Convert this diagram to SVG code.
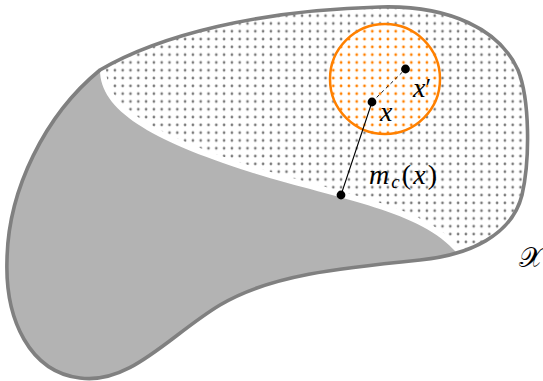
<svg xmlns="http://www.w3.org/2000/svg" width="543" height="381" viewBox="0 0 543 381">
<style>
.lbl{font-family:"Liberation Serif","Times New Roman",serif;font-style:italic;font-size:28px;fill:#000}
.up{font-style:normal}
.pt{fill:#000}
</style>
<defs>
<path id="blob" d="M 100 70 C 160 35, 260 10, 380 7 C 450 5, 500 30, 518 70 C 530 100, 530 160, 522 195 C 512 235, 470 255, 420 260 C 340 268, 270 275, 220 305 C 170 335, 130 385, 80 378 C 30 372, 5 320, 7 260 C 8 190, 45 115, 100 70 Z"/>
<clipPath id="blobClip"><use href="#blob"/></clipPath>
<clipPath id="ballClip"><circle cx="385" cy="79" r="55"/></clipPath>
<pattern id="dotsGray" patternUnits="userSpaceOnUse" x="1.8" y="-3.8" width="7.8" height="7.8">
<circle cx="3.9" cy="3.9" r="1.35" fill="#7a7a7a"/>
</pattern>
<pattern id="dotsOrange" patternUnits="userSpaceOnUse" x="1.8" y="-3.8" width="7.8" height="7.8">
<circle cx="3.9" cy="3.9" r="1.4" fill="#ff8000"/>
</pattern>
</defs>

<g id="region-X">
<use href="#blob" fill="#fff"/>
<g clip-path="url(#blobClip)">
<rect x="0" y="0" width="543" height="381" fill="url(#dotsGray)"/>
<path d="M 100 70 C 100 110, 150 140, 250 172 C 340 200, 420 210, 457 253" fill="none" stroke="#fff" stroke-width="12"/>
</g>
</g>

<g id="region-gray" clip-path="url(#blobClip)">
<path d="M 100 70 C 100 110, 150 140, 250 172 C 340 200, 420 210, 457 253 L 480 400 L -10 400 L -10 60 Z" fill="#b3b3b3"/>
</g>

<g id="ball">
<circle cx="385" cy="79" r="55" fill="#fff"/>
<rect x="320" y="20" width="130" height="120" fill="url(#dotsOrange)" clip-path="url(#ballClip)"/>
<circle cx="385" cy="79" r="55" fill="none" stroke="#ff8000" stroke-width="2.5"/>
</g>

<g id="outline">
<use href="#blob" fill="none" stroke="#808080" stroke-width="3.6"/>
</g>

<g id="connectors">
<line x1="341" y1="195" x2="372" y2="102" stroke="#000" stroke-width="1.1"/>
<line x1="372" y1="102" x2="405.5" y2="69" stroke="#000" stroke-width="0.9" stroke-dasharray="3.5 3"/>
</g>

<g id="point-x">
<circle class="pt" cx="372" cy="102" r="4.4"/>
<text class="lbl" x="380" y="121">x</text>
</g>
<g id="point-xprime">
<circle class="pt" cx="405.5" cy="69" r="4.4"/>
<text class="lbl" x="413" y="96.5">x<tspan class="up" font-size="26" dy="-1">′</tspan></text>
</g>
<g id="point-mc">
<circle class="pt" cx="341" cy="195" r="4.4"/>
<text class="lbl" x="369" y="184" textLength="68" lengthAdjust="spacing">m<tspan font-size="19" dy="4">c</tspan><tspan class="up" dy="-4">(</tspan>x<tspan class="up">)</tspan></text>
</g>
<g id="label-X">
<text class="lbl" x="519" y="267" style="font-family:'DejaVu Serif','Liberation Serif',serif;font-style:normal">𝒳</text>
</g>
</svg>
